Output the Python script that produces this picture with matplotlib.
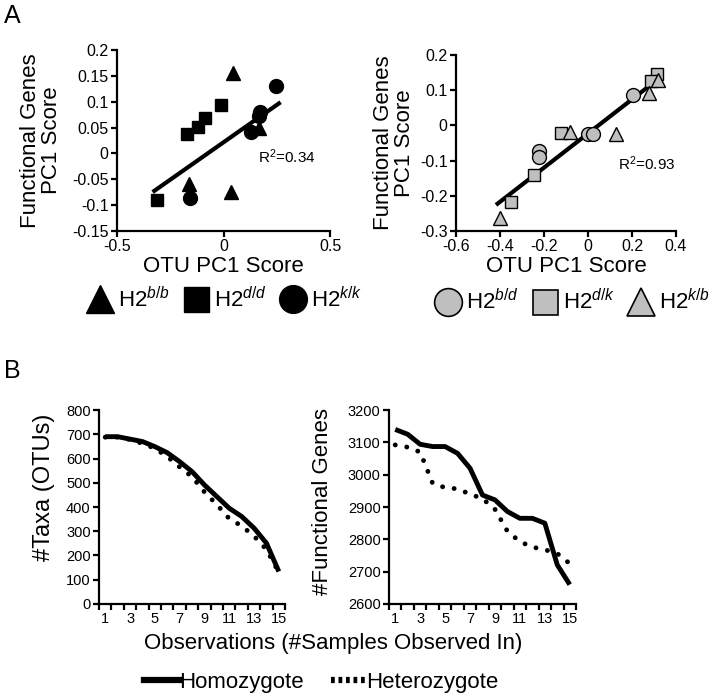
import numpy as np
import matplotlib
matplotlib.use("Agg")
import matplotlib.pyplot as plt
from matplotlib.lines import Line2D

plt.rcParams['font.family'] = ['Liberation Sans', 'DejaVu Sans']
plt.rcParams['mathtext.fontset'] = 'custom'
plt.rcParams['mathtext.rm'] = 'Liberation Sans'
plt.rcParams['mathtext.it'] = 'Liberation Sans:italic'

# panel A left: homozygotes (OTU PC1 score, functional genes PC1 score)
bb_x = [0.045, -0.16, 0.033, 0.168]
bb_y = [0.155, -0.06, -0.075, 0.05]
dd_x = [-0.313, -0.173, -0.122, -0.089, -0.014]
dd_y = [-0.09, 0.038, 0.052, 0.068, 0.093]
kk_x = [-0.159, 0.13, 0.165, 0.173, 0.248]
kk_y = [-0.087, 0.042, 0.072, 0.08, 0.131]
trend_left = (0.289, 0.0215)   # slope, intercept

# panel A right: heterozygotes
bd_x = [0.203, -0.001, 0.024, -0.221, -0.221]
bd_y = [0.085, -0.024, -0.024, -0.072, -0.089]
dk_x = [0.315, 0.285, -0.123, -0.244, -0.35]
dk_y = [0.146, 0.125, -0.022, -0.14, -0.219]
kb_x = [0.276, 0.317, -0.082, 0.127, -0.399]
kb_y = [0.091, 0.128, -0.019, -0.025, -0.263]
trend_right = (0.485, -0.023)

# panel B: number of samples observed in
obs = np.arange(1, 16)
taxa_homo = [690, 690, 680, 670, 649, 624, 587, 546, 491, 443, 395, 361, 313, 251, 134]
taxa_het = [688, 688, 678, 662, 642, 608, 565, 525, 462, 410, 352, 322, 280, 225, 130]
genes_homo = [3140, 3125, 3094, 3087, 3087, 3066, 3020, 2937, 2922, 2886, 2865, 2865, 2850, 2721, 2660]
genes_het = [3092, 3085, 3070, 2973, 2960, 2956, 2940, 2926, 2893, 2825, 2793, 2776, 2768, 2756, 2725]

grey = '#bfbfbf'
ms = 10

fig = plt.figure(figsize=(7.14, 6.96), dpi=100)


def style_axes(ax, fs):
    ax.spines['top'].set_visible(False)
    ax.spines['right'].set_visible(False)
    ax.spines['left'].set_linewidth(1.6)
    ax.spines['bottom'].set_linewidth(1.6)
    ax.tick_params(direction='out', length=4, width=1.6, labelsize=fs, pad=2)
    ax.tick_params(which='minor', direction='out', length=4, width=1.6)


def trend(ax, xs, coef):
    # trend line drawn across the range of the points
    k, b = coef
    xx = np.array([min(xs) - 0.012, max(xs) + 0.012])
    ax.plot(xx, k * xx + b, color='black', lw=3, zorder=3)


# ---- A left ----
ax1 = fig.add_axes([0.1639, 0.6681, 0.2983, 0.2601])
ax1.plot(bb_x, bb_y, '^', color='black', ms=ms, zorder=4)
ax1.plot(dd_x, dd_y, 's', color='black', ms=ms - 1, zorder=4)
ax1.plot(kk_x, kk_y, 'o', color='black', ms=ms, zorder=4)
trend(ax1, bb_x + dd_x + kk_x, trend_left)
ax1.set_xlim(-0.5, 0.5)
ax1.set_ylim(-0.15, 0.2)
ax1.set_xticks([-0.5, 0, 0.5])
ax1.set_xticklabels(['-0.5', '0', '0.5'])
ax1.set_yticks(np.arange(-0.15, 0.21, 0.05))
ax1.set_yticklabels(['-0.15', '-0.1', '-0.05', '0', '0.05', '0.1', '0.15', '0.2'])
style_axes(ax1, 11.5)
ax1.set_xlabel('OTU PC1 Score', fontsize=16, labelpad=1)
ax1.set_ylabel('Functional Genes\nPC1 Score', fontsize=16, linespacing=1.0)
ax1.yaxis.set_label_coords(-0.258, 0.5)
ax1.text(0.164, -0.006, 'R$^2$=0.34', fontsize=11, va='center')

# ---- A right ----
ax2 = fig.add_axes([0.6387, 0.6681, 0.3081, 0.2529])
ax2.plot(bd_x, bd_y, 'o', mfc=grey, mec='black', mew=1, ms=ms, zorder=4)
ax2.plot(dk_x, dk_y, 's', mfc=grey, mec='black', mew=1, ms=ms - 1, zorder=4)
ax2.plot(kb_x, kb_y, '^', mfc=grey, mec='black', mew=1, ms=ms, zorder=4)
trend(ax2, bd_x + dk_x + kb_x, trend_right)
ax2.set_xlim(-0.6, 0.4)
ax2.set_ylim(-0.3, 0.2)
ax2.set_xticks([-0.6, -0.4, -0.2, 0, 0.2, 0.4])
ax2.set_xticklabels(['-0.6', '-0.4', '-0.2', '0', '0.2', '0.4'])
ax2.set_yticks([-0.3, -0.2, -0.1, 0, 0.1, 0.2])
ax2.set_yticklabels(['-0.3', '-0.2', '-0.1', '0', '0.1', '0.2'])
style_axes(ax2, 11.5)
ax2.set_xlabel('OTU PC1 Score', fontsize=16, labelpad=1)
ax2.set_ylabel('Functional Genes\nPC1 Score', fontsize=16, linespacing=1.0)
ax2.yaxis.set_label_coords(-0.186, 0.5)
ax2.text(0.136, -0.108, 'R$^2$=0.93', fontsize=11, va='center')

# legends for panel A
h1 = [Line2D([], [], ls='', marker='^', color='black', ms=20),
      Line2D([], [], ls='', marker='s', color='black', ms=18),
      Line2D([], [], ls='', marker='o', color='black', ms=20)]
fig.legend(h1, ['H2$^{b/b}$', 'H2$^{d/d}$', 'H2$^{k/k}$'], loc='center',
           bbox_to_anchor=(0.316, 0.570), ncol=3, frameon=False, fontsize=16,
           handlelength=1.0, handletextpad=0.3, columnspacing=0.7)
h2 = [Line2D([], [], ls='', marker='o', mfc=grey, mec='black', mew=1.2, ms=20),
      Line2D([], [], ls='', marker='s', mfc=grey, mec='black', mew=1.2, ms=18),
      Line2D([], [], ls='', marker='^', mfc=grey, mec='black', mew=1.2, ms=20)]
fig.legend(h2, ['H2$^{b/d}$', 'H2$^{d/k}$', 'H2$^{k/b}$'], loc='center',
           bbox_to_anchor=(0.803, 0.566), ncol=3, frameon=False, fontsize=16,
           handlelength=1.0, handletextpad=0.3, columnspacing=0.7)

# ---- B left ----
ax3 = fig.add_axes([0.1387, 0.1322, 0.2605, 0.2787])
ax3.plot(obs, taxa_homo, color='black', lw=3.5, solid_capstyle='butt')
ax3.plot(obs, taxa_het, color='black', lw=3.5, ls=(0, (0.01, 2.4)), dash_capstyle='round')
ax3.set_xlim(0.5, 15.5)
ax3.set_ylim(0, 800)
ax3.set_yticks(np.arange(0, 801, 100))
ax3.set_xticks(np.arange(1, 16, 2))
ax3.set_xticks(np.arange(0.5, 15.6, 1), minor=True)
style_axes(ax3, 10.5)
ax3.tick_params(axis='x', which='major', length=0, pad=6)
ax3.set_ylabel('#Taxa (OTUs)', fontsize=17)
ax3.yaxis.set_label_coords(-0.237, 0.60)

# ---- B right ----
ax4 = fig.add_axes([0.5448, 0.1322, 0.2619, 0.2787])
ax4.plot(obs, genes_homo, color='black', lw=3.5, solid_capstyle='butt')
ax4.plot(obs, genes_het, color='black', lw=3.5, ls=(0, (0.01, 2.4)), dash_capstyle='round')
ax4.set_xlim(0.5, 15.5)
ax4.set_ylim(2600, 3200)
ax4.set_yticks(np.arange(2600, 3201, 100))
ax4.set_xticks(np.arange(1, 16, 2))
ax4.set_xticks(np.arange(0.5, 15.6, 1), minor=True)
style_axes(ax4, 10.5)
ax4.tick_params(axis='x', which='major', length=0, pad=6)
ax4.set_ylabel('#Functional Genes', fontsize=16)
ax4.yaxis.set_label_coords(-0.30, 0.53)

fig.text(0.467, 0.076, 'Observations (#Samples Observed In)', fontsize=16,
         ha='center', va='center')

# legend for panel B
h3 = [Line2D([], [], color='black', lw=4.5),
      Line2D([], [], color='black', lw=4.5, ls=(0, (0.6, 0.6)))]
fig.legend(h3, ['Homozygote', 'Heterozygote'], loc='center',
           bbox_to_anchor=(0.45, 0.02), ncol=2, frameon=False, fontsize=16,
           handlelength=1.6, handletextpad=0.0, columnspacing=1.2)

# panel letters
fig.text(0.005, 0.977, 'A', fontsize=18, va='center')
fig.text(0.005, 0.467, 'B', fontsize=18, va='center')

plt.savefig('out.png', dpi=100)
